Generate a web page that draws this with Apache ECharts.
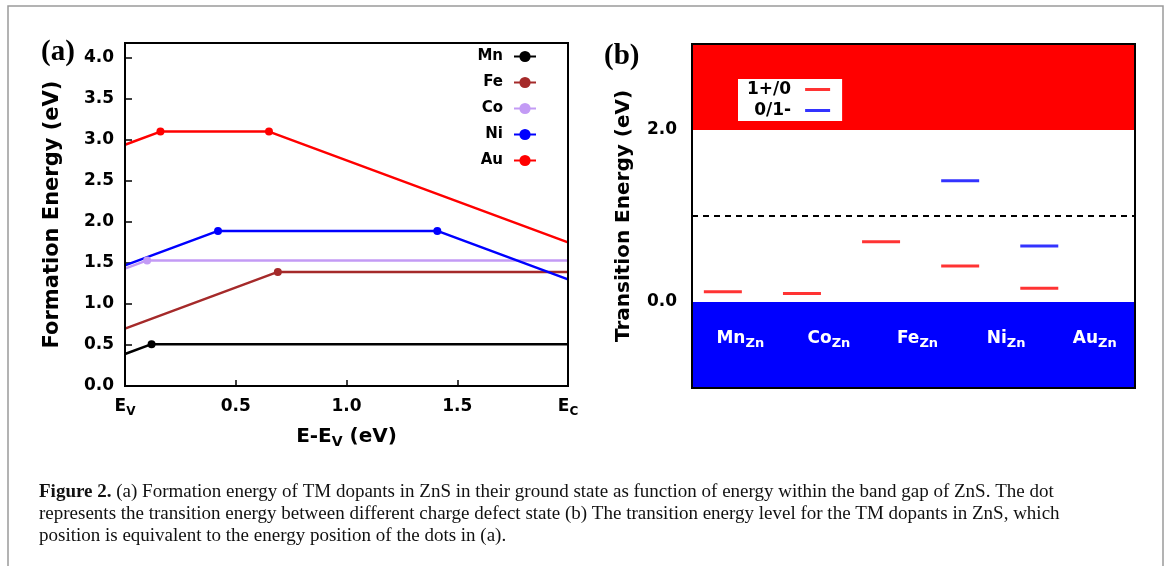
<!DOCTYPE html>
<html>
<head>
<meta charset="utf-8">
<script src="https://cdn.jsdelivr.net/npm/echarts@6/dist/echarts.min.js"></script>
<style>
  html, body { margin: 0; padding: 0; background: #fff; }
  #chart { width: 1168px; height: 566px; }
</style>
</head>
<body>
<div id="chart"></div>
<script>
// (a) formation energy vs Fermi level, points are [E - Ev, Ef]
var mnLine = [[0, 0.39], [0.12, 0.51], [2.0, 0.51]];
var feLine = [[0, 0.70], [0.69, 1.39], [2.0, 1.39]];
var coLine = [[0, 1.43], [0.10, 1.53], [2.0, 1.53]];
var niLine = [[0, 1.47], [0.42, 1.89], [1.41, 1.89], [2.0, 1.30]];
var auLine = [[0, 2.94], [0.16, 3.10], [0.65, 3.10], [2.0, 1.75]];

// (b) transition levels per dopant
var dopants = ['Mn', 'Co', 'Fe', 'Ni', 'Au'];
var level10 = [0.12, 0.10, 0.70, 0.42, 0.16];   // 1+/0
var level01 = [null, null, null, 1.41, 0.65];   // 0/1-

var SANS = 'DejaVu Sans';
var SERIF = 'Liberation Serif';

// only the kinks get a dot
function withDots(arr) {
  return arr.map(function (p, i) {
    if (i === 0 || i === arr.length - 1) return { value: p, symbol: 'none' };
    return { value: p };
  });
}
function levelPoints(arr) {
  var out = [];
  arr.forEach(function (v, i) { if (v != null) out.push([i + 1, v]); });
  return out;
}
function lineSeries(name, data, color) {
  return {
    name: name, type: 'line', xAxisIndex: 0, yAxisIndex: 0,
    data: withDots(data),
    symbol: 'circle', symbolSize: 8,
    lineStyle: { color: color, width: 2.5 },
    itemStyle: { color: color },
    emphasis: { disabled: true }
  };
}

var subRich = {
  e: { fontFamily: SANS, fontWeight: 'bold', fontSize: 17, color: '#000', lineHeight: 20, verticalAlign: 'top' },
  s: { fontFamily: SANS, fontWeight: 'bold', fontSize: 12, color: '#000', lineHeight: 14, verticalAlign: 'bottom', padding: [13, 0, 0, 0] },
  n: { fontFamily: SANS, fontWeight: 'bold', fontSize: 20, color: '#000', lineHeight: 22, verticalAlign: 'top' },
  ns: { fontFamily: SANS, fontWeight: 'bold', fontSize: 14, color: '#000', lineHeight: 16, verticalAlign: 'bottom', padding: [12, 0, 0, 0] }
};

var chart = echarts.init(document.getElementById('chart'));

var option = {
  animation: false,
  backgroundColor: '#fff',
  graphic: [{
    type: 'rect', silent: true,
    shape: { x: 8, y: 6, width: 1155, height: 620 },
    style: { fill: 'none', stroke: '#9a9a9a', lineWidth: 1.5 }
  }],
  title: [
    { text: '(a)', left: 36, top: 33, textStyle: { fontFamily: SERIF, fontWeight: 'bold', fontSize: 29, color: '#000' } },
    { text: '(b)', left: 599, top: 37, textStyle: { fontFamily: SERIF, fontWeight: 'bold', fontSize: 29, color: '#000' } },
    {
      text: '{b|Figure 2.} (a) Formation energy of TM dopants in ZnS in their ground state as function of energy within the band gap of ZnS. The dot\n' +
            'represents the transition energy between different charge defect state (b) The transition energy level for the TM dopants in ZnS, which\n' +
            'position is equivalent to the energy position of the dots in (a).',
      left: 34, top: 476,
      textStyle: {
        fontFamily: SERIF, fontSize: 19, fontWeight: 'normal', color: '#111', lineHeight: 22,
        rich: { b: { fontFamily: SERIF, fontSize: 19, fontWeight: 'bold', color: '#111', lineHeight: 22 } }
      }
    }
  ],
  legend: [
    {
      data: ['Mn', 'Fe', 'Co', 'Ni', 'Au'],
      orient: 'vertical', align: 'right',
      right: 631, top: 49, padding: 0,
      itemWidth: 22, itemHeight: 14, itemGap: 11,
      textStyle: { fontFamily: SANS, fontWeight: 'bold', fontSize: 15, color: '#000', width: 30, align: 'right', padding: [0, 6, 0, 0] },
      selectedMode: false
    },
    {
      data: ['1+/0', '0/1-'],
      orient: 'vertical', align: 'right',
      left: 738, top: 79, padding: [1, 12, 1, 9],
      backgroundColor: '#fff',
      icon: 'rect', itemWidth: 25, itemHeight: 3, itemGap: 2,
      textStyle: { fontFamily: SANS, fontWeight: 'bold', fontSize: 17, color: '#000', lineHeight: 19, width: 42, align: 'right', padding: [0, 9, 0, 0] },
      selectedMode: false
    }
  ],
  grid: [
    { left: 125, top: 43, width: 443, height: 343, show: true, borderColor: '#000', borderWidth: 2, z: 10 },
    { left: 692, top: 44, width: 443, height: 344, show: true, borderColor: '#000', borderWidth: 2, z: 10 }
  ],
  xAxis: [
    {
      gridIndex: 0, type: 'value', min: 0, max: 2.0, interval: 0.5,
      name: '{n|E-E}{ns|V}{n| (eV)}', nameLocation: 'middle', nameGap: 40,
      nameTextStyle: { rich: subRich },
      axisLine: { show: true, lineStyle: { color: '#000', width: 2 } },
      axisTick: { show: true, inside: true, length: 6, lineStyle: { color: '#000', width: 1.5 } },
      splitLine: { show: false },
      axisLabel: {
        margin: 12, fontFamily: SANS, fontWeight: 'bold', fontSize: 17, color: '#000',
        rich: subRich,
        formatter: function (v) {
          if (v === 0) return '{e|E}{s|V}';
          if (v === 2) return '{e|E}{s|C}';
          return '{e|' + v.toFixed(1) + '}';
        }
      }
    },
    {
      gridIndex: 1, type: 'value', min: 0.61, max: 6.21, position: 'top', show: false
    },
    {
      gridIndex: 1, type: 'category', data: dopants, position: 'bottom', z: 20,
      axisLine: { show: false }, axisTick: { show: false }, splitLine: { show: false },
      axisLabel: {
        inside: true, margin: 38, color: '#fff', interval: 0, padding: [0, 0, 0, 8],
        formatter: function (v) { return '{m|' + v + '}{z|Zn}'; },
        rich: {
          m: { fontFamily: SANS, fontWeight: 'bold', fontSize: 17, color: '#fff', lineHeight: 20, verticalAlign: 'top' },
          z: { fontFamily: SANS, fontWeight: 'bold', fontSize: 13, color: '#fff', lineHeight: 15, verticalAlign: 'bottom', padding: [11, 0, 0, 0] }
        }
      }
    }
  ],
  yAxis: [
    {
      gridIndex: 0, type: 'value', min: 0, max: 4.18, interval: 0.5,
      name: 'Formation Energy (eV)', nameLocation: 'middle', nameGap: 62,
      nameTextStyle: { fontFamily: SANS, fontWeight: 'bold', fontSize: 21, color: '#000' },
      axisLine: { show: true, lineStyle: { color: '#000', width: 2 } },
      axisTick: { show: true, inside: true, length: 7, lineStyle: { color: '#000', width: 1.5 } },
      splitLine: { show: false },
      axisLabel: {
        margin: 11, fontFamily: SANS, fontWeight: 'bold', fontSize: 17, color: '#000',
        showMaxLabel: false,
        formatter: function (v) { return Math.abs(v * 2 - Math.round(v * 2)) < 1e-6 ? v.toFixed(1) : ''; }
      }
    },
    {
      gridIndex: 1, type: 'value', min: -1, max: 3, interval: 1,
      name: 'Transition Energy (eV)', nameLocation: 'middle', nameGap: 58,
      nameTextStyle: { fontFamily: SANS, fontWeight: 'bold', fontSize: 20, color: '#000' },
      axisLine: { show: false }, axisTick: { show: false }, splitLine: { show: false },
      axisLabel: {
        margin: 15, fontFamily: SANS, fontWeight: 'bold', fontSize: 17, color: '#000',
        formatter: function (v) { return (v === 0 || v === 2) ? v.toFixed(1) : ''; }
      }
    }
  ],
  series: [
    lineSeries('Mn', mnLine, '#000000'),
    lineSeries('Fe', feLine, '#a52a2a'),
    lineSeries('Co', coLine, '#c39bf5'),
    lineSeries('Ni', niLine, '#0000ff'),
    lineSeries('Au', auLine, '#ff0000'),
    {
      name: '1+/0', type: 'scatter', xAxisIndex: 1, yAxisIndex: 1,
      data: levelPoints(level10),
      symbol: 'rect', symbolSize: [38, 3],
      itemStyle: { color: '#ff0000' },
      emphasis: { disabled: true },
      markArea: {
        silent: true,
        data: [
          [{ yAxis: 2, itemStyle: { color: '#ff0000', opacity: 1 } }, { yAxis: 3 }],
          [{ yAxis: -1, itemStyle: { color: '#0000ff', opacity: 1 } }, { yAxis: 0 }]
        ]
      },
      markLine: {
        silent: true, symbol: ['none', 'none'],
        label: { show: false },
        lineStyle: { color: '#000', type: [6, 5], width: 2 },
        data: [{ yAxis: 1 }]
      }
    },
    {
      name: '0/1-', type: 'scatter', xAxisIndex: 1, yAxisIndex: 1,
      data: levelPoints(level01),
      symbol: 'rect', symbolSize: [38, 3],
      itemStyle: { color: '#0000ff' },
      emphasis: { disabled: true }
    }
  ]
};

chart.setOption(option);

window.onresize = function () {
  chart.resize();
};
</script>
</body>
</html>
